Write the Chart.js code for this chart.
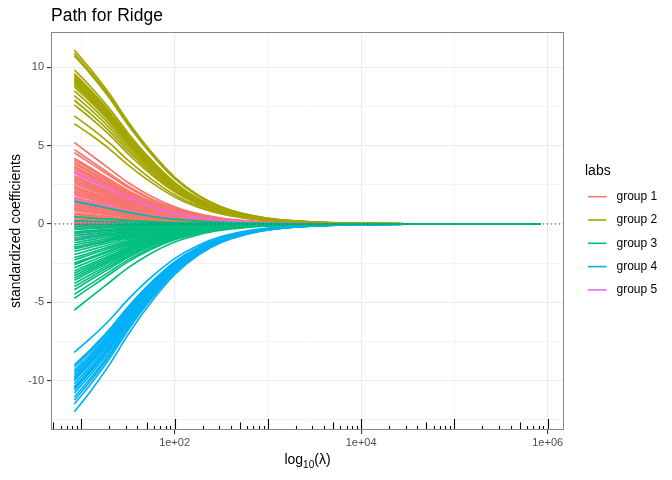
<!DOCTYPE html>
<html>
<head>
<meta charset="utf-8">
<script src="https://cdn.jsdelivr.net/npm/chart.js@4.4.0/dist/chart.umd.min.js"></script>
<style>
body { margin: 0; background: #fff; }
canvas { display: block; }
</style>
</head>
<body>
<canvas id="ridge" width="672" height="480"></canvas>
<script>
// lambda grid (log10) and the share of the first value still left at each step
var logLambda = [0.925, 1.1, 1.3, 1.5, 1.75, 2.0, 2.25, 2.5, 2.75, 3.0, 3.25, 3.5, 3.75, 4.0, 4.5, 5.0, 5.925];
var keepSlow = [1, 0.89, 0.75, 0.59, 0.415, 0.27, 0.167, 0.099, 0.058, 0.033, 0.019, 0.011, 0.006, 0.0034, 0.0011, 0.0003, 0];
var keepFast = [1, 0.85, 0.68, 0.51, 0.34, 0.21, 0.126, 0.073, 0.042, 0.024, 0.0136, 0.0077, 0.0043, 0.0024, 0.0008, 0.0002, 0];

// coefficient values at the smallest lambda, one per line
var group1 = [5.2, 4.75, 4.55, 4.2, 4.1, 3.95, 3.85, 3.7, 3.6, 3.5, 3.35, 3.25, 3.1, 3.0, 2.9, 2.75, 2.65, 2.55, 2.4, 2.3, 2.2, 2.05, 1.95, 1.85, 1.7, 1.6, 1.5, 1.4, 1.25, 1.15, 1.05, 0.95, 0.85, 0.7, 0.6, 0.5, 0.4, 0.3, 0.2, 0.1, 0.05, -0.1];
var group2 = [11.1, 10.9, 10.75, 9.85, 9.6, 9.5, 9.4, 9.3, 9.2, 9.1, 9.0, 8.9, 8.75, 8.5, 8.2, 7.9, 7.6, 6.9, 6.4];
var group3 = [1.45, 0.45, 0.2, -0.05, -0.2, -0.35, -0.5, -0.6, -0.75, -0.9, -1.05, -1.2, -1.35, -1.5, -1.6, -1.75, -1.95, -2.15, -2.3, -2.5, -2.6, -2.8, -3.0, -3.15, -3.3, -3.45, -3.6, -3.8, -4.0, -4.2, -4.5, -4.75, -5.5];
var group4 = [-8.2, -9.0, -9.15, -9.35, -9.5, -9.65, -9.8, -9.9, -10.0, -10.2, -10.4, -10.5, -10.6, -10.8, -11.05, -11.25, -11.5, -12.0];
var group5 = [3.3, 2.8, 2.4, 2.1, 1.6, 1.3, 1.0, 0.6, 0.15, -0.1, -0.3, -0.6, -0.75, -1.0, -1.5];

var groupNames = ['group 1', 'group 2', 'group 3', 'group 4', 'group 5'];
var groupColors = ['#F8766D', '#A3A500', '#00BF7D', '#00B0F6', '#E76BF3'];

var xBreaks = [10, 100, 1000, 10000, 100000, 1000000];
var xLabels = { 100: '1e+02', 10000: '1e+04', 1000000: '1e+06' };
var yBreaks = [-12.5, -10, -7.5, -5, -2.5, 0, 2.5, 5, 7.5, 10];

var FONT = '"Liberation Sans", Arial, sans-serif';

function path(start, keep) {
    return logLambda.map(function (l, i) {
        return { x: Math.pow(10, l), y: start * keep[i] };
    });
}

var datasets = [];
function addGroup(values, keep, g) {
    values.forEach(function (v) {
        datasets.push({
            label: groupNames[g],
            data: path(v, keep),
            borderColor: groupColors[g],
            borderWidth: 1.7,
            pointRadius: 0,
            fill: false,
            cubicInterpolationMode: 'monotone'
        });
    });
}
// Chart.js paints the first dataset last: green on top, a few pink lines over red, the rest of pink at the bottom
addGroup(group3, keepFast, 2);
addGroup(group5.filter(function (v, i) { return i % 4 === 0; }), keepFast, 4);
addGroup(group4, keepSlow, 3);
addGroup(group2, keepSlow, 1);
addGroup(group1, keepFast, 0);
addGroup(group5.filter(function (v, i) { return i % 4 !== 0; }), keepFast, 4);

// title, dotted zero line, log ticks, panel border, axis titles, legend
var extras = {
    id: 'extras',
    afterDatasetsDraw: function (chart) {
        var c = chart.ctx, a = chart.chartArea;
        var xs = chart.scales.x, ys = chart.scales.y;
        c.save();

        // dotted line at 0
        var y0 = ys.getPixelForValue(0);
        c.strokeStyle = '#444';
        c.lineWidth = 1.1;
        c.setLineDash([1, 3]);
        c.beginPath();
        c.moveTo(a.left, y0);
        c.lineTo(a.right, y0);
        c.stroke();
        c.setLineDash([]);

        // log ticks along the bottom
        c.strokeStyle = '#000';
        c.lineWidth = 1.1;
        for (var e = 0; e <= 6; e++) {
            for (var k = 1; k <= 9; k++) {
                var v = k * Math.pow(10, e);
                if (v < xs.min || v > xs.max) continue;
                var px = Math.round(xs.getPixelForValue(v)) + 0.5;
                var len = k === 1 ? 11 : (k === 5 ? 7.5 : 4);
                c.beginPath();
                c.moveTo(px, a.bottom);
                c.lineTo(px, a.bottom - len);
                c.stroke();
            }
        }

        // panel border
        c.strokeStyle = '#888';
        c.lineWidth = 1;
        c.strokeRect(a.left + 0.5, a.top + 0.5, a.right - a.left - 1, a.bottom - a.top - 1);

        // title
        c.fillStyle = '#000';
        c.textAlign = 'left';
        c.textBaseline = 'alphabetic';
        c.font = '17.5px ' + FONT;
        c.fillText('Path for Ridge', a.left, 21);

        // x title: log10(λ)
        c.font = '14px ' + FONT;
        var w1 = c.measureText('log').width;
        c.font = '10px ' + FONT;
        var w2 = c.measureText('10').width;
        c.font = '14px ' + FONT;
        var w3 = c.measureText('(λ)').width;
        var cx = (a.left + a.right) / 2 - (w1 + w2 + w3) / 2;
        c.fillText('log', cx, 464);
        c.font = '10px ' + FONT;
        c.fillText('10', cx + w1, 468);
        c.font = '14px ' + FONT;
        c.fillText('(λ)', cx + w1 + w2, 464);

        // y title
        c.save();
        c.translate(19.5, (a.top + a.bottom) / 2);
        c.rotate(-Math.PI / 2);
        c.textAlign = 'center';
        c.fillText('standardized coefficients', 0, 0);
        c.restore();

        // legend
        c.textAlign = 'left';
        c.textBaseline = 'middle';
        c.font = '14px ' + FONT;
        c.fillText('labs', 585, 171);
        c.font = '12px ' + FONT;
        groupNames.forEach(function (name, i) {
            var ly = 196.7 + i * 23.3;
            c.strokeStyle = groupColors[i];
            c.lineWidth = 1.6;
            c.beginPath();
            c.moveTo(588, ly);
            c.lineTo(606.5, ly);
            c.stroke();
            c.fillStyle = '#000';
            c.fillText(name, 616.5, ly);
        });

        c.restore();
    }
};

var ctx = document.getElementById('ridge').getContext('2d');
var chart = new Chart(ctx, {
    type: 'line',
    data: { datasets: datasets },
    options: {
        responsive: false,
        animation: false,
        events: [],
        layout: { padding: { left: 0, right: 108, top: 32, bottom: 0 } },
        plugins: {
            legend: { display: false },
            tooltip: { enabled: false },
            title: { display: false }
        },
        scales: {
            x: {
                type: 'logarithmic',
                min: Math.pow(10, 0.675),
                max: Math.pow(10, 6.175),
                afterBuildTicks: function (s) {
                    s.ticks = xBreaks.map(function (v) { return { value: v }; });
                },
                afterFit: function (s) { s.height = 50; },
                border: { display: false },
                grid: {
                    color: '#EBEBEB',
                    lineWidth: function (t) { return xLabels[t.tick.value] ? 1.1 : 0.6; },
                    tickColor: function (t) { return xLabels[t.tick.value] ? '#333' : 'rgba(0,0,0,0)'; },
                    tickLength: 4
                },
                ticks: {
                    autoSkip: false,
                    maxRotation: 0,
                    padding: 2,
                    color: '#4D4D4D',
                    font: { family: FONT, size: 11 },
                    callback: function (v) { return xLabels[v] || ''; }
                }
            },
            y: {
                type: 'linear',
                min: -13.16,
                max: 12.26,
                afterBuildTicks: function (s) {
                    s.ticks = yBreaks.map(function (v) { return { value: v }; });
                },
                afterFit: function (s) { s.width = 51; },
                border: { display: false },
                grid: {
                    color: '#EBEBEB',
                    lineWidth: function (t) { return t.tick.value % 5 === 0 ? 1.1 : 0.6; },
                    tickColor: function (t) { return t.tick.value % 5 === 0 ? '#333' : 'rgba(0,0,0,0)'; },
                    tickLength: 4
                },
                ticks: {
                    autoSkip: false,
                    padding: 3,
                    color: '#4D4D4D',
                    font: { family: FONT, size: 11 },
                    callback: function (v) { return v % 5 === 0 ? String(v) : ''; }
                }
            }
        }
    },
    plugins: [extras]
});
</script>
</body>
</html>
